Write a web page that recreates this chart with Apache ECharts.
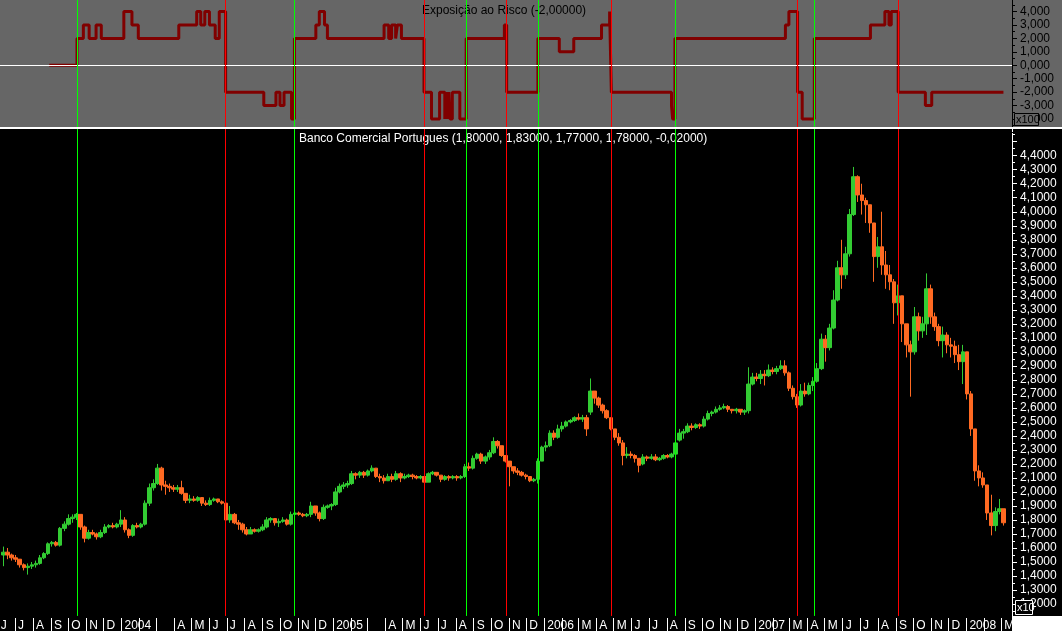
<!DOCTYPE html>
<html><head><meta charset="utf-8">
<script src="https://cdn.jsdelivr.net/npm/echarts@6/dist/echarts.min.js"></script>
<style>html,body{margin:0;padding:0;background:#000;}#c{width:1062px;height:631px;}</style>
</head><body><div id="c"></div><script>
// ---------- DATA ----------
// weekly bars, first bar = week starting Monday 2003-06-09 (drawn at the Wednesday)
const firstWeekMonday = '2003-06-09';
// [open, close, low, high]
const weeklyOHLC = [
[1.55,1.57,1.47,1.61],[1.57,1.55,1.52,1.60],[1.55,1.53,1.51,1.56],[1.53,1.52,1.50,1.55],[1.52,1.48,1.46,1.52],
[1.48,1.46,1.44,1.49],[1.46,1.47,1.41,1.49],[1.47,1.48,1.45,1.50],[1.48,1.49,1.46,1.51],[1.49,1.53,1.48,1.55],
[1.53,1.56,1.52,1.57],[1.56,1.63,1.55,1.64],[1.63,1.64,1.61,1.65],[1.64,1.62,1.61,1.65],[1.62,1.74,1.61,1.75],
[1.74,1.77,1.72,1.79],[1.77,1.81,1.76,1.84],[1.81,1.82,1.78,1.84],[1.82,1.84,1.80,1.85],[1.84,1.75,1.73,1.84],
[1.75,1.67,1.64,1.76],[1.67,1.71,1.66,1.73],[1.71,1.70,1.69,1.73],[1.70,1.68,1.66,1.71],[1.68,1.71,1.67,1.73],
[1.71,1.75,1.70,1.77],[1.75,1.76,1.74,1.77],[1.76,1.75,1.74,1.78],[1.75,1.77,1.74,1.78],[1.77,1.80,1.75,1.87],
[1.80,1.73,1.71,1.82],[1.73,1.69,1.67,1.74],[1.69,1.76,1.68,1.77],[1.76,1.75,1.74,1.78],[1.75,1.77,1.74,1.78],
[1.77,1.92,1.76,1.94],[1.92,2.03,1.90,2.06],[2.03,2.06,2.01,2.09],[2.06,2.17,2.05,2.20],[2.17,2.05,2.01,2.18],
[2.05,2.04,1.98,2.08],[2.04,2.03,2.00,2.06],[2.03,2.02,2.00,2.05],[2.02,2.03,2.00,2.05],[2.03,1.99,1.98,2.08],
[1.99,1.94,1.92,1.99],[1.94,1.95,1.92,1.98],[1.95,1.94,1.93,1.97],[1.94,1.96,1.93,1.97],[1.96,1.92,1.90,1.96],
[1.92,1.91,1.90,1.94],[1.91,1.94,1.90,1.96],[1.94,1.95,1.93,1.96],[1.95,1.93,1.92,1.95],[1.93,1.92,1.91,1.94],
[1.92,1.80,1.78,1.94],[1.80,1.84,1.78,1.90],[1.84,1.78,1.77,1.85],[1.78,1.77,1.73,1.80],[1.77,1.73,1.71,1.78],
[1.73,1.70,1.69,1.75],[1.70,1.73,1.70,1.75],[1.73,1.72,1.71,1.74],[1.72,1.73,1.71,1.74],[1.73,1.75,1.72,1.77],
[1.75,1.80,1.74,1.82],[1.80,1.81,1.78,1.82],[1.81,1.78,1.76,1.81],[1.78,1.79,1.75,1.81],[1.79,1.80,1.78,1.82],
[1.80,1.77,1.76,1.81],[1.77,1.84,1.76,1.86],[1.84,1.85,1.83,1.86],[1.85,1.84,1.83,1.86],[1.84,1.83,1.82,1.85],
[1.83,1.84,1.82,1.85],[1.84,1.90,1.82,1.93],[1.90,1.85,1.83,1.90],[1.85,1.81,1.79,1.86],[1.81,1.89,1.80,1.91],
[1.89,1.90,1.88,1.91],[1.90,1.91,1.87,1.92],[1.91,2.00,1.90,2.03],[2.00,2.04,1.99,2.06],[2.04,2.05,2.02,2.07],
[2.05,2.06,2.03,2.08],[2.06,2.13,2.05,2.15],[2.13,2.12,2.09,2.14],[2.12,2.14,2.10,2.15],[2.14,2.12,2.10,2.15],
[2.12,2.15,2.11,2.16],[2.15,2.17,2.14,2.19],[2.17,2.11,2.10,2.17],[2.11,2.10,2.07,2.13],[2.10,2.08,2.06,2.12],
[2.08,2.11,2.08,2.13],[2.11,2.09,2.07,2.13],[2.09,2.13,2.08,2.15],[2.13,2.10,2.07,2.14],[2.10,2.11,2.09,2.13],
[2.11,2.12,2.10,2.13],[2.12,2.11,2.09,2.13],[2.11,2.10,2.09,2.12],[2.10,2.11,2.09,2.12],[2.11,2.07,2.04,2.11],
[2.07,2.13,2.07,2.14],[2.13,2.14,2.12,2.15],[2.14,2.12,2.11,2.14],[2.12,2.09,2.07,2.12],[2.09,2.11,2.08,2.12],
[2.11,2.10,2.08,2.12],[2.10,2.11,2.09,2.12],[2.11,2.10,2.08,2.12],[2.10,2.11,2.09,2.12],[2.11,2.18,2.10,2.20],
[2.18,2.17,2.15,2.21],[2.17,2.24,2.16,2.26],[2.24,2.27,2.23,2.28],[2.27,2.22,2.20,2.28],[2.22,2.25,2.20,2.26],
[2.25,2.28,2.23,2.30],[2.28,2.36,2.27,2.39],[2.36,2.33,2.31,2.37],[2.33,2.26,2.25,2.33],[2.26,2.22,2.21,2.26],
[2.22,2.18,2.04,2.22],[2.18,2.15,2.13,2.18],[2.15,2.14,2.12,2.17],[2.14,2.12,2.11,2.15],[2.12,2.11,2.09,2.13],
[2.11,2.08,2.07,2.11],[2.08,2.09,2.07,2.10],[2.09,2.22,2.06,2.24],[2.22,2.32,2.22,2.33],[2.32,2.33,2.29,2.36],
[2.33,2.42,2.32,2.44],[2.42,2.39,2.37,2.44],[2.39,2.45,2.38,2.48],[2.45,2.47,2.43,2.50],[2.47,2.50,2.46,2.51],
[2.50,2.51,2.49,2.52],[2.51,2.53,2.50,2.54],[2.53,2.52,2.51,2.56],[2.52,2.53,2.50,2.55],[2.53,2.45,2.40,2.55],
[2.57,2.72,2.55,2.81],[2.72,2.67,2.63,2.72],[2.67,2.62,2.60,2.68],[2.62,2.58,2.56,2.63],[2.58,2.53,2.52,2.59],
[2.53,2.45,2.44,2.53],[2.45,2.39,2.37,2.45],[2.39,2.35,2.33,2.42],[2.35,2.26,2.19,2.37],[2.26,2.27,2.24,2.32],
[2.27,2.26,2.24,2.29],[2.26,2.24,2.21,2.27],[2.24,2.19,2.14,2.24],[2.20,2.25,2.19,2.27],[2.25,2.24,2.22,2.26],
[2.24,2.25,2.23,2.27],[2.25,2.23,2.22,2.27],[2.23,2.24,2.22,2.25],[2.24,2.26,2.23,2.27],[2.26,2.25,2.24,2.27],
[2.25,2.27,2.24,2.28],[2.27,2.35,2.26,2.37],[2.37,2.42,2.36,2.45],[2.42,2.43,2.38,2.45],[2.43,2.47,2.42,2.49],
[2.47,2.46,2.44,2.49],[2.46,2.48,2.45,2.49],[2.48,2.47,2.45,2.49],[2.47,2.52,2.46,2.54],[2.52,2.56,2.51,2.58],
[2.56,2.57,2.54,2.58],[2.57,2.59,2.56,2.61],[2.59,2.60,2.58,2.62],[2.60,2.61,2.59,2.63],[2.61,2.59,2.57,2.62],
[2.59,2.58,2.56,2.59],[2.58,2.59,2.56,2.60],[2.59,2.57,2.55,2.59],[2.57,2.58,2.55,2.59],[2.58,2.77,2.56,2.89],
[2.77,2.82,2.76,2.85],[2.82,2.81,2.79,2.85],[2.81,2.84,2.77,2.87],[2.84,2.83,2.76,2.87],[2.83,2.87,2.82,2.91],
[2.87,2.86,2.84,2.89],[2.86,2.88,2.84,2.90],[2.88,2.90,2.87,2.94],[2.90,2.85,2.83,2.94],[2.85,2.74,2.72,2.86],
[2.74,2.68,2.66,2.76],[2.68,2.62,2.60,2.70],[2.62,2.72,2.61,2.77],[2.72,2.70,2.68,2.78],[2.70,2.76,2.69,2.78],
[2.76,2.79,2.72,2.82],[2.79,2.88,2.78,2.92],[2.88,3.09,2.87,3.13],[3.09,3.03,2.93,3.12],[3.03,3.17,3.01,3.20],
[3.17,3.37,3.16,3.44],[3.37,3.60,3.36,3.65],[3.60,3.55,3.45,3.80],[3.55,3.70,3.52,3.75],[3.70,3.98,3.68,4.02],
[3.98,4.25,3.97,4.32],[4.25,4.12,4.07,4.26],[4.12,4.08,3.98,4.20],[4.08,4.05,3.92,4.10],[4.05,3.92,3.85,4.05],
[3.92,3.68,3.50,3.92],[3.68,3.75,3.60,3.82],[3.75,3.62,3.55,4.00],[3.62,3.55,3.45,3.72],[3.55,3.50,3.44,3.62],
[3.50,3.35,3.20,3.52],[3.35,3.40,3.26,3.48],[3.40,3.20,3.07,3.40],[3.20,3.05,2.96,3.20],[3.05,3.00,2.68,3.08],
[3.00,3.25,2.98,3.32],[3.25,3.15,3.08,3.28],[3.15,3.20,3.10,3.25],[3.20,3.45,3.12,3.56],[3.45,3.25,3.20,3.48],
[3.25,3.18,3.15,3.28],[3.18,3.08,3.04,3.20],[3.08,3.12,2.96,3.18],[3.12,3.05,2.99,3.14],[3.05,3.04,2.96,3.10],
[3.04,2.98,2.92,3.08],[2.98,2.93,2.87,3.05],[2.93,3.00,2.77,3.05],[3.00,2.70,2.66,3.00],[2.70,2.45,2.40,2.72],
[2.45,2.15,2.08,2.45],[2.15,2.10,2.04,2.19],[2.10,2.05,2.03,2.14],[2.05,1.85,1.80,2.05],[1.85,1.76,1.69,1.98],
[1.76,1.86,1.72,1.89],[1.86,1.88,1.84,1.95],[1.88,1.78,1.76,1.88]
];
// risk exposure indicator: [date it takes the value, value]
const exposure = [
['2003-08-29',0],['2003-10-16',2],['2003-10-27',3],['2003-11-06',2],['2003-11-18',3],['2003-11-27',2],
['2004-01-05',4],['2004-01-19',3],['2004-01-30',2],['2004-04-09',3],['2004-05-10',4],['2004-05-17',3],
['2004-05-24',4],['2004-06-01',3],['2004-06-11',2],['2004-06-18',4],['2004-06-29',-2],['2004-09-03',-3],
['2004-09-24',-2],['2004-10-01',-3],['2004-10-08',-2],['2004-10-21',-4],['2004-10-26',2],['2004-12-02',3],
['2004-12-08',4],['2004-12-17',3],['2004-12-22',2],['2005-03-30',3],['2005-04-07',2],['2005-04-12',3],
['2005-04-19',2],['2005-04-22',3],['2005-04-29',2],['2005-06-07',-2],['2005-06-20',-4],['2005-07-04',-2],
['2005-07-13',-4],['2005-07-15',-2],['2005-07-18',-4],['2005-07-20',-2],['2005-07-22',-4],['2005-07-26',-2],
['2005-08-08',-4],['2005-08-19',2],['2005-10-24',3],['2005-10-28',-2],['2005-12-21',2],['2006-01-27',1],
['2006-02-21',2],['2006-04-10',3],['2006-04-24',4],['2006-04-27',-2],['2006-08-09',-3],['2006-08-11',-4],
['2006-08-15',2],['2007-02-22',3],['2007-02-28',4],['2007-03-15',-2],['2007-03-23',-4],['2007-04-13',2],
['2007-07-19',3],['2007-08-13',4],['2007-08-20',3],['2007-08-24',4],['2007-09-05',-2],['2007-10-22',-3],
['2007-11-02',-2],['2008-03-05',-2]
];
// trade signals (vertical lines)
const signals = [
['2003-10-17','buy'],['2004-06-29','sell'],['2004-10-26','buy'],['2005-06-07','sell'],['2005-08-19','buy'],
['2005-10-28','sell'],['2005-12-21','buy'],['2006-04-27','sell'],['2006-08-15','buy'],['2007-03-15','sell'],
['2007-04-13','buy'],['2007-09-05','sell']
];
const monthLetters = ['J','F','M','A','M','J','J','A','S','O','N','D'];
const hiddenMonthLabels = ['2004-02','2004-03','2005-02','2005-03','2006-02','2007-02','2008-02'];
const priceLabelRange = [1.2, 4.4];
const exposureLabelRange = [-4, 4];
const titleTop = 'Exposição ao Risco (-2,00000)';
const titleBottom = 'Banco Comercial Portugues (1,80000, 1,83000, 1,77000, 1,78000, -0,02000)';

// ---------- BUILD ----------
const DAY = 86400000;
const t0 = Date.parse(firstWeekMonday) + 2 * DAY;
const candleData = weeklyOHLC.map((d, i) => [t0 + i * 7 * DAY, d[0], d[1], d[2], d[3]]);
const expData = exposure.map(d => [Date.parse(d[0]), d[1]]);
const xMin = Date.UTC(2003, 5, 1);
const xMax = xMin + 1753.8 * DAY;
const monthStarts = [];
for (let y = 2003, m = 5; y < 2008 || m <= 2; ) {
  monthStarts.push(Date.UTC(y, m, 1));
  m++; if (m > 11) { m = 0; y++; }
}
function monthLabel(v) {
  const d = new Date(v), y = d.getUTCFullYear(), m = d.getUTCMonth();
  const key = y + '-' + String(m + 1).padStart(2, '0');
  if (hiddenMonthLabels.indexOf(key) >= 0) return '';
  return m === 0 ? String(y) : monthLetters[m];
}
const sigColor = s => s === 'buy' ? '#00ff00' : '#ff0000';
const PRICE_MIN = 1.0, PRICE_MAX = 4.6, PRICE_PANEL_BOTTOM = 1.115;
const sigLinesTop = signals.map(s => ({ xAxis: Date.parse(s[0]), lineStyle: { color: sigColor(s[1]), width: 1, type: 'solid' } }));
const sigLinesBottom = signals.map(s => [
  { coord: [Date.parse(s[0]), PRICE_MAX], lineStyle: { color: sigColor(s[1]), width: 1, type: 'solid' } },
  { coord: [Date.parse(s[0]), PRICE_PANEL_BOTTOM] }
]);
const FONT = 'Liberation Sans';

const chart = echarts.init(document.getElementById('c'), null, { renderer: 'canvas' });
chart.setOption({
  animation: false,
  backgroundColor: '#000',
  title: [
    { text: titleTop, left: 422, top: 5, padding: 0, z: 1, textStyle: { color: '#000', fontSize: 12, fontWeight: 'normal', fontFamily: FONT } },
    { text: titleBottom, left: 299, top: 133, padding: 0, z: 1, textStyle: { color: '#fff', fontSize: 12, fontWeight: 'normal', fontFamily: FONT } }
  ],
  grid: [
    { left: -2.23, right: 50, top: -1.85, height: 134.3, outerBoundsMode: 'none', containLabel: false },
    { left: -2.23, right: 50, top: 127.7, height: 504.34, outerBoundsMode: 'none', containLabel: false },
    { left: -2.23, right: 50, top: 631, height: 1, outerBoundsMode: 'none', containLabel: false }
  ],
  xAxis: [
    { type: 'value', gridIndex: 0, min: xMin, max: xMax, show: false, splitLine: { show: false } },
    { type: 'value', gridIndex: 1, min: xMin, max: xMax, show: false, splitLine: { show: false } },
    { type: 'value', gridIndex: 2, min: xMin, max: xMax, position: 'top', splitLine: { show: false },
      axisLine: { show: false },
      axisTick: { show: true, inside: false, customValues: monthStarts, length: 14, lineStyle: { color: '#fff', width: 1 } },
      axisLabel: { inside: false, customValues: monthStarts, formatter: monthLabel, color: '#fff', fontSize: 12, fontFamily: FONT,
        align: 'left', verticalAlign: 'bottom', margin: -1, padding: [0, 0, 0, 3], showMinLabel: true, showMaxLabel: true, hideOverlap: false } }
  ],
  yAxis: [
    { type: 'value', gridIndex: 0, position: 'right', min: -5, max: 5, interval: 1,
      splitLine: { show: false },
      axisLine: { show: true, lineStyle: { color: '#000', width: 1 } },
      axisTick: { show: true, length: 5, lineStyle: { color: '#000' } },
      minorTick: { show: true, splitNumber: 2, length: 3, lineStyle: { color: '#000' } },
      axisLabel: { color: '#000', fontSize: 12, lineHeight: 11, fontFamily: FONT, margin: 8,
        showMinLabel: true, showMaxLabel: true, hideOverlap: false,
        formatter: v => (v < exposureLabelRange[0] - 0.01 || v > exposureLabelRange[1] + 0.01) ? '' : v.toFixed(3).replace('.', ',') } },
    { type: 'value', gridIndex: 1, position: 'right', min: PRICE_MIN, max: PRICE_MAX, interval: 0.1,
      splitLine: { show: false },
      axisLine: { show: true, lineStyle: { color: '#fff', width: 1 } },
      axisTick: { show: true, length: 5, lineStyle: { color: '#fff' } },
      minorTick: { show: true, splitNumber: 2, length: 3, lineStyle: { color: '#fff' } },
      axisLabel: { color: '#fff', fontSize: 12, lineHeight: 11, fontFamily: FONT, margin: 8,
        showMinLabel: true, showMaxLabel: true, hideOverlap: false,
        formatter: v => (v < priceLabelRange[0] - 0.01 || v > priceLabelRange[1] + 0.01) ? '' : v.toFixed(4).replace('.', ',') } },
    { type: 'value', gridIndex: 2, min: 0, max: 1, show: false }
  ],
  series: [
    { type: 'line', xAxisIndex: 0, yAxisIndex: 0, data: expData, step: 'end', showSymbol: false, z: 3,
      lineStyle: { color: '#800000', width: 3 },
      markLine: { silent: true, symbol: 'none', label: { show: false }, animation: false,
        data: [{ yAxis: 0, lineStyle: { color: '#fff', width: 1, type: 'solid' } }].concat(sigLinesTop) } },
    { type: 'candlestick', xAxisIndex: 1, yAxisIndex: 1, data: candleData, encode: { x: 0, y: [1, 2, 3, 4] },
      barWidth: 4, z: 3,
      itemStyle: { color: '#33cc33', color0: '#ff6a22', borderColor: '#33cc33', borderColor0: '#ff6a22', borderWidth: 1 },
      markLine: { silent: true, symbol: 'none', label: { show: false }, animation: false, data: sigLinesBottom } }
  ],
  graphic: [
    { type: 'rect', z: -10, shape: { x: 0, y: 0, width: 1062, height: 127 }, style: { fill: '#666666' }, silent: true },
    { type: 'rect', z: 100, shape: { x: 0, y: 127, width: 1062, height: 2 }, style: { fill: '#ffffff' }, silent: true },
    { type: 'rect', z: 100, shape: { x: 1014.5, y: 113.5, width: 24, height: 12 }, style: { fill: '#666666', stroke: '#000', lineWidth: 1 }, silent: true },
    { type: 'text', z: 101, x: 1016, y: 114, style: { text: 'x100', fill: '#000', font: '11px ' + FONT }, silent: true },
    { type: 'rect', z: 100, shape: { x: 1012, y: 616, width: 50, height: 15 }, style: { fill: '#ffffff' }, silent: true },
    { type: 'rect', z: 101, shape: { x: 1015.5, y: 600.5, width: 17, height: 14 }, style: { fill: '#000', stroke: '#fff', lineWidth: 1 }, silent: true },
    { type: 'text', z: 102, x: 1017, y: 602, style: { text: 'x10', fill: '#fff', font: '11px ' + FONT }, silent: true }
  ]
});
</script></body></html>
